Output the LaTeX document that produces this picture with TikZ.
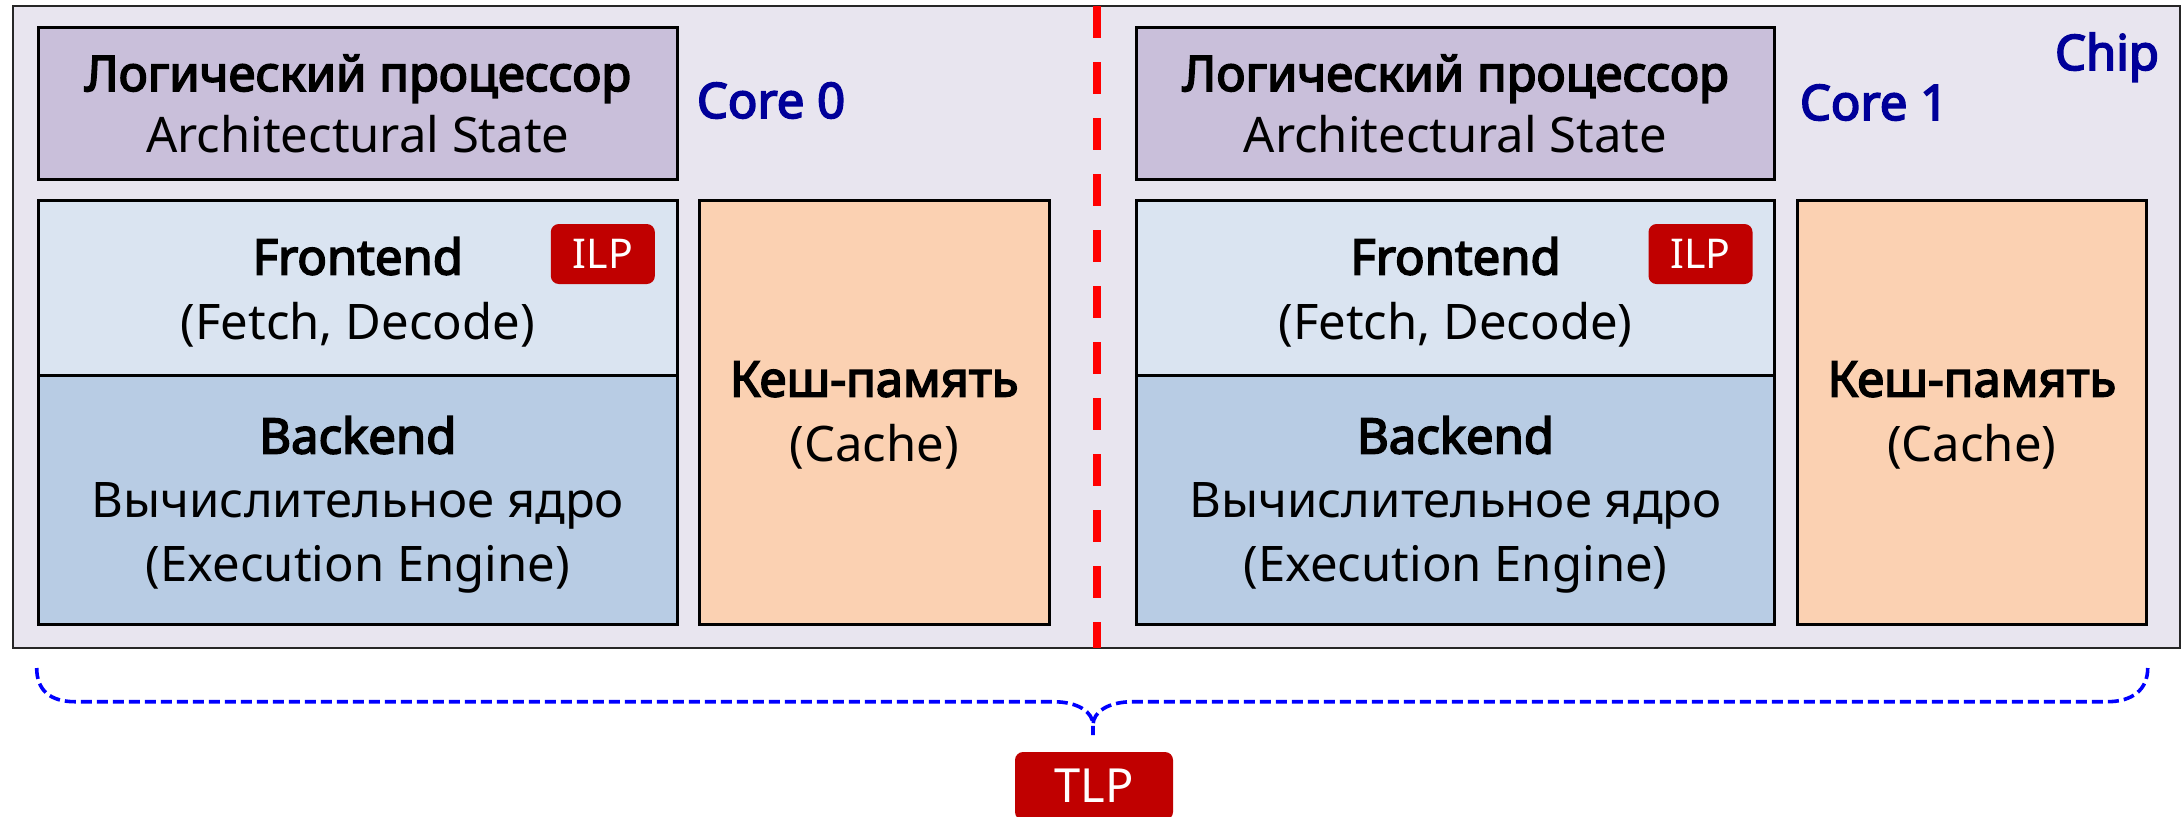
\documentclass[tikz,border=0pt]{standalone}
\usepackage{fontspec}
\setmainfont{Noto Sans}[AutoFakeBold=3.4]
\usetikzlibrary{fit}
\definecolor{chipbg}{HTML}{E8E5EF}
\definecolor{statebg}{HTML}{C9BFDA}
\definecolor{frontbg}{HTML}{DAE4F1}
\definecolor{backbg}{HTML}{B8CCE4}
\definecolor{cachebg}{HTML}{FBD1B2}
\definecolor{badgered}{HTML}{C00000}
\definecolor{corenavy}{HTML}{000099}
\begin{document}
\begin{tikzpicture}[x=0.5pt,y=-0.5pt,
  chipbox/.style={draw=black!85, line width=1.25pt, fill=chipbg, inner sep=0pt},
  unit/.style={draw=black, line width=1.5pt, inner sep=0pt},
  txt/.style={anchor=base, inner sep=0pt, font=\fontsize{24.5pt}{30pt}\selectfont},
  txtb/.style={txt, font=\fontsize{24.5pt}{30pt}\selectfont\bfseries},
  badge/.style={fill=badgered, rounded corners=4pt, text=white, inner sep=0pt},
  corelabel/.style={text=corenavy, font=\fontsize{24.5pt}{30pt}\selectfont\bfseries,
    anchor=base, inner sep=0pt},
  splitline/.style={draw=red, line width=4.15pt, dash pattern=on 16pt off 12pt},
  tlpbrace/.style={draw=blue, line width=1.8pt, dash pattern=on 5.5pt off 2.5pt}]
\useasboundingbox (0,0) rectangle (2183,816);

% chip outline and the split between the two cores
\node[chipbox, fit={(13,6) (2180,648)}] (chip) {};
\coordinate (splittop) at (1096.8,6);
\coordinate (splitbot) at (1096.8,648);
\draw[splitline] (splittop) -- (splitbot);

% the two cores share one layout, shifted sideways
\foreach \i/\dx in {0/0, 1/1097.7} {
  \node[unit, fill=statebg, fit={(38.6+\dx,27.7) (677+\dx,179)}] (ls\i) {};
  \node[unit, fill=frontbg, fit={(38.6+\dx,200.7) (677+\dx,375)}] (fe\i) {};
  \node[unit, fill=backbg, fit={(38.6+\dx,375) (677+\dx,624)}] (be\i) {};
  \node[unit, fill=cachebg, fit={(699.4+\dx,200.7) (1049+\dx,624)}] (ca\i) {};

  \node[txtb] (ls\i a) at (357.8+\dx,91) {Логический процессор};
  \node[txt]  (ls\i b) at (357.8+\dx,152) {Architectural State};
  \node[txtb] (fe\i a) at (357.8+\dx,274.5) {Frontend};
  \node[txt]  (fe\i b) at (357.8+\dx,339) {(Fetch, Decode)};
  \node[txtb] (be\i a) at (357.8+\dx,453.5) {Backend};
  \node[txt]  (be\i b) at (357.8+\dx,517.5) {Вычислительное ядро};
  \node[txt]  (be\i c) at (357.8+\dx,581) {(Execution Engine)};
  \node[txtb] (ca\i a) at (874.2+\dx,396.5) {Кеш-память};
  \node[txt]  (ca\i b) at (874.2+\dx,461.5) {(Cache)};

  \node[badge, minimum width=52pt, minimum height=30pt,
    font=\fontsize{20.5pt}{24pt}\selectfont] (ilp\i) at (602.8+\dx,254) {ILP};
}
\node[corelabel] (core0) at (771,118) {Core 0};
\node[corelabel] (core1) at (1874,120) {Core 1};
\node[corelabel] (chiplabel) at (2107,70) {Chip};

% brace spanning both cores
\coordinate (bl) at (36.7,668);
\coordinate (br) at (2147.7,668);
\coordinate (tip) at (1093,735);
\draw[tlpbrace] (bl) .. controls (36.7,690) and (50,701.7) .. (75,701.7)
  -- (1053,701.7) .. controls (1078,701.7) and (1093,712) .. (1093,725) -- (tip);
\draw[tlpbrace] (br) .. controls (2147.7,690) and (2132,701.7) .. (2107,701.7)
  -- (1133,701.7) .. controls (1108,701.7) and (1093,712) .. (1093,725);

\node[badge, minimum width=79pt, minimum height=34pt,
  font=\fontsize{23.5pt}{28pt}\selectfont] (tlp) at (1094,786) {TLP};
\end{tikzpicture}
\end{document}
